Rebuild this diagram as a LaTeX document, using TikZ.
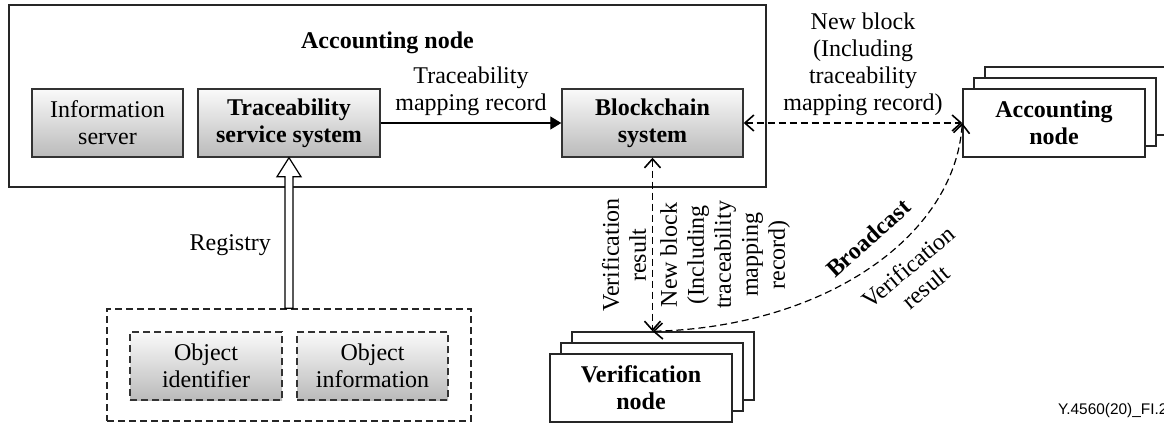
\documentclass[tikz,border=0pt]{standalone}
\usepackage{fontspec}
\setmainfont{Liberation Serif}
\newfontfamily\figfont{Liberation Sans}
\usetikzlibrary{arrows.meta,calc}

\newcommand{\figsize}{\fontsize{12}{13.5}\selectfont}

\begin{document}
\begin{tikzpicture}[
	x=0.5pt, y=-0.5pt,
	font=\figsize,
	component/.style={draw=black!80, line width=0.7pt, top color=black!2, bottom color=black!27, minimum height=34pt, align=center, inner sep=0pt},
	objectbox/.style={component, dash pattern=on 3.5pt off 2pt},
	peer/.style={draw=black!85, line width=0.7pt, fill=white, minimum width=91pt, minimum height=34pt, align=center, inner sep=0pt, font=\figsize\bfseries},
	housing/.style={draw=black!85, line width=0.7pt, inner sep=0pt},
	flow/.style={draw=black, line width=0.6pt, -{Triangle[length=5.5pt,width=6.5pt]}},
	sync/.style={draw=black, line width=0.6pt, dash pattern=on 3.5pt off 2pt, {Straight Barb[length=4.5pt,width=8pt,line width=0.8pt]}-{Straight Barb[length=4.5pt,width=8pt,line width=0.8pt]}},
]

\useasboundingbox (0,0) rectangle (1164,423);

\begin{scope}[]
%%% ACCOUNTING NODE
\node [housing, minimum width=378.5pt, minimum height=91pt] (acct) at (387.5,96) {};
\node [font=\figsize\bfseries] (accttitle) at (387.5,43) {Accounting node};

\node [component, minimum width=75.5pt] (info) at (107.5,123) {Information\\server};
\node [component, minimum width=91pt, font=\figsize\bfseries] (trace) at (289,123) {Traceability\\service system};
\node [component, minimum width=90.5pt, font=\figsize\bfseries] (chain) at (652.5,123) {Blockchain\\system};

\draw [flow] (trace.east) -- node [above, align=center] (maplabel) {Traceability\\mapping record} (chain.west);
\end{scope}

\begin{scope}[]
%%% OBJECTS
\node [housing, dash pattern=on 3.5pt off 2pt, minimum width=182pt, minimum height=56pt] (objs) at (289,365) {};
\node [objectbox, minimum width=76pt] (objid) at (206,366) {Object\\identifier};
\node [objectbox, minimum width=75.5pt] (objinfo) at (372.5,366) {Object\\information};

\draw [line width=0.6pt, fill=white] (trace.south) -- ++(12,19) -- ++(-8,0) -- ($(objs.north)+(4,0)$) -- ++(-8,0) -- ($(trace.south)+(-4,19)$) -- ++(-8,0) -- cycle;
\node [anchor=east] (registry) at (278,245) {Registry};
\end{scope}

\begin{scope}[]
%%% OTHER ACCOUNTING NODES
\node [peer] (acc3) at (1076,101) {};
\node [peer] (acc2) at (1065,112) {};
\node [peer] (acc1) at (1054,123) {Accounting\\node};

%%% VERIFICATION NODES
\node [peer] (ver3) at (663,366) {};
\node [peer] (ver2) at (652,377) {};
\node [peer] (ver1) at (641,388) {Verification\\node};
\end{scope}

\begin{scope}[]
%%% BROADCAST
\draw [sync] (chain.east) -- node [above, xshift=5pt, align=center] (blklabel) {New block\\(Including\\traceability\\mapping record)} (acc1.west);
\draw [sync] (chain.south) -- (chain.south |- ver3.north);
\draw [sync] (chain.south |- ver3.north) .. controls +(167,-4) and +(-8,117) .. (acc1.west);

\node [rotate=90, align=center] (verres) at (624,255) {Verification\\result};
\node [rotate=90, align=center] (newblk) at (725,255) {New block\\(Including\\traceability\\mapping\\record)};
\node [rotate=42, font=\figsize\bfseries] (bcast) at (868,238) {Broadcast};
\node [rotate=40, align=center] (bcres) at (917,277) {Verification\\result};
\end{scope}

\node [anchor=west, font=\figfont\fontsize{7.7}{9}\selectfont] (figlabel) at (1051,411) {Y.4560(20)\_FI.2};

\end{tikzpicture}
\end{document}
